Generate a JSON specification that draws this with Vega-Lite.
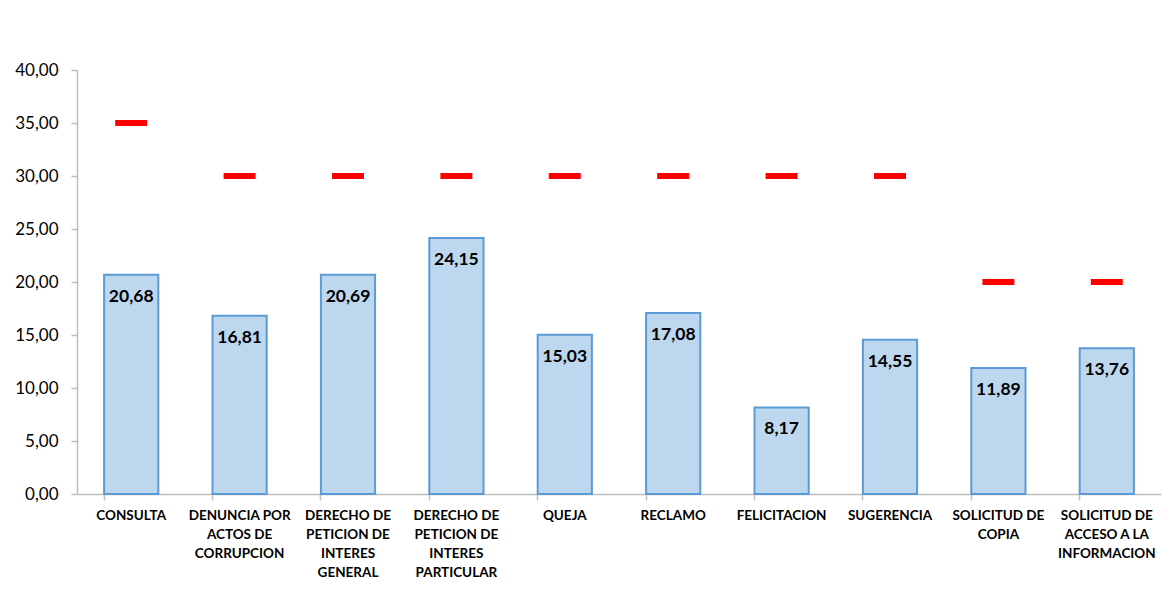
{
  "$schema": "https://vega.github.io/schema/vega-lite/v6.json",
  "width": 1084,
  "height": 424,
  "autosize": "none",
  "padding": {"left": 77, "top": 70, "right": 8, "bottom": 104},
  "background": "white",
  "config": {
    "view": {"stroke": null},
    "locale": {"number": {"decimal": ",", "thousands": ".", "grouping": [3], "currency": ["", ""]}},
    "font": "Lato"
  },
  "data": {
    "values": [
      {"tipo": "CONSULTA", "promedio": 20.68, "meta": 35},
      {"tipo": "DENUNCIA POR ACTOS DE CORRUPCION", "promedio": 16.81, "meta": 30},
      {"tipo": "DERECHO DE PETICION DE INTERES GENERAL", "promedio": 20.69, "meta": 30},
      {"tipo": "DERECHO DE PETICION DE INTERES PARTICULAR", "promedio": 24.15, "meta": 30},
      {"tipo": "QUEJA", "promedio": 15.03, "meta": 30},
      {"tipo": "RECLAMO", "promedio": 17.08, "meta": 30},
      {"tipo": "FELICITACION", "promedio": 8.17, "meta": 30},
      {"tipo": "SUGERENCIA", "promedio": 14.55, "meta": 30},
      {"tipo": "SOLICITUD DE COPIA", "promedio": 11.89, "meta": 20},
      {"tipo": "SOLICITUD DE ACCESO A LA INFORMACION", "promedio": 13.76, "meta": 20}
    ]
  },
  "encoding": {
    "x": {
      "field": "tipo",
      "type": "nominal",
      "sort": null,
      "scale": {"paddingInner": 0.5, "paddingOuter": 0.25},
      "axis": {
        "title": null,
        "labelAngle": 0,
        "bandPosition": 0,
        "domainColor": "#BFBFBF",
        "domainWidth": 1.5,
        "tickColor": "#BFBFBF",
        "tickSize": 6,
        "tickWidth": 1.5,
        "labelFont": "Lato",
        "labelFontWeight": "bold",
        "labelFontSize": 13.5,
        "labelColor": "black",
        "labelPadding": 8,
        "labelLineHeight": 19,
        "labelBaseline": "top",
        "labelLimit": 0,
        "labelExpr": "{'DENUNCIA POR ACTOS DE CORRUPCION': ['DENUNCIA POR', 'ACTOS DE', 'CORRUPCION'], 'DERECHO DE PETICION DE INTERES GENERAL': ['DERECHO DE', 'PETICION DE', 'INTERES', 'GENERAL'], 'DERECHO DE PETICION DE INTERES PARTICULAR': ['DERECHO DE', 'PETICION DE', 'INTERES', 'PARTICULAR'], 'SOLICITUD DE COPIA': ['SOLICITUD DE', 'COPIA'], 'SOLICITUD DE ACCESO A LA INFORMACION': ['SOLICITUD DE', 'ACCESO A LA', 'INFORMACION']}[datum.value] || datum.value"
      }
    }
  },
  "layer": [
    {
      "mark": {"type": "bar", "fill": "#BDD7EE", "stroke": "#5B9BD5", "strokeWidth": 2},
      "encoding": {
        "y": {
          "field": "promedio",
          "type": "quantitative",
          "scale": {"domain": [0, 40], "nice": false},
          "axis": {
            "title": null,
            "values": [0, 5, 10, 15, 20, 25, 30, 35, 40],
            "format": ".2f",
            "grid": false,
            "domainColor": "#BFBFBF",
            "domainWidth": 1.5,
            "tickColor": "#BFBFBF",
            "tickSize": 6,
            "tickWidth": 1.5,
            "labelFont": "Lato",
            "labelFontSize": 17,
            "labelColor": "black",
            "labelPadding": 13
          }
        }
      }
    },
    {
      "mark": {"type": "text", "baseline": "middle", "dy": 22, "fontSize": 17.5, "fontWeight": "bold", "font": "Lato", "color": "black"},
      "encoding": {
        "y": {"field": "promedio", "type": "quantitative"},
        "text": {"field": "promedio", "type": "quantitative", "format": ".2f"}
      }
    },
    {
      "mark": {"type": "tick", "color": "#FF0000", "size": 32, "thickness": 6, "opacity": 1},
      "encoding": {
        "y": {"field": "meta", "type": "quantitative"}
      }
    }
  ]
}
